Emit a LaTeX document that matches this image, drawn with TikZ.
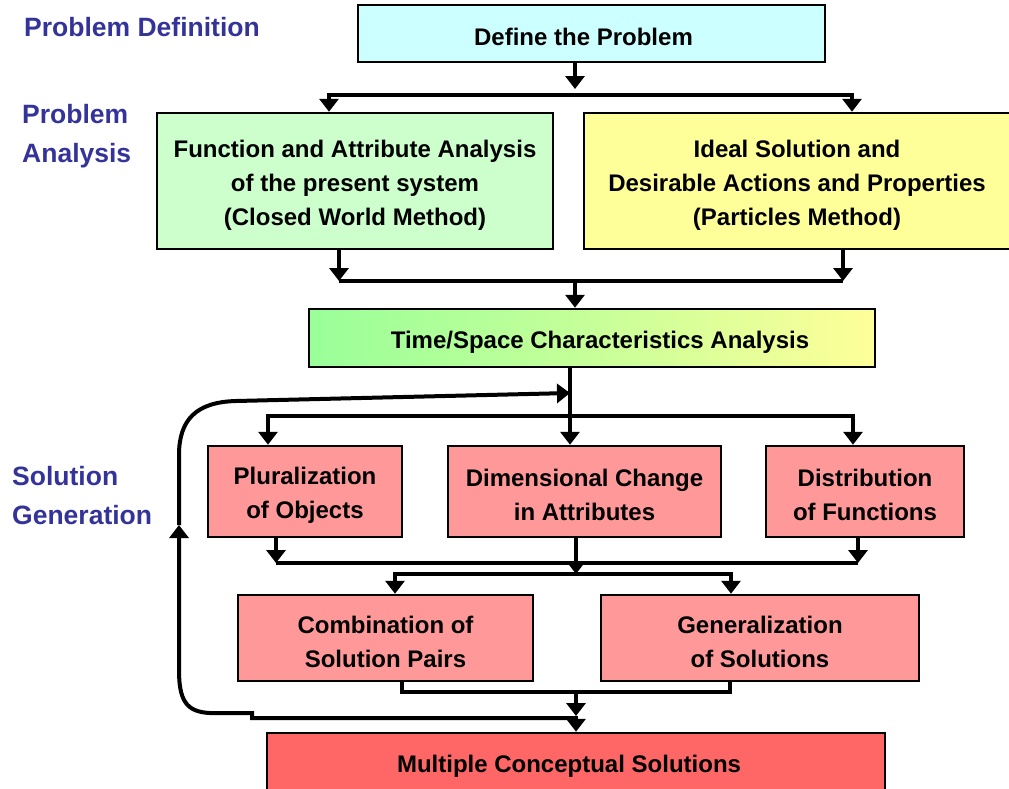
\documentclass[tikz,border=0pt]{standalone}
\usepackage{fontspec}
\setmainfont{Liberation Sans}
\usetikzlibrary{arrows.meta,calc}
\definecolor{labelblue}{HTML}{333399}
\definecolor{cyanbox}{HTML}{CCFFFF}
\definecolor{greenbox}{HTML}{CCFFCC}
\definecolor{yellowbox}{HTML}{FFFF99}
\definecolor{greenshade}{HTML}{99FF99}
\definecolor{pinkbox}{HTML}{FF9999}
\definecolor{redbox}{HTML}{FF6666}
% strut that sets the first line a little lower in its box
\newcommand\firststrut{\rule{0pt}{25pt}}
% moves a one-line label sideways by half of the given length
\newcommand\nudge[1]{\hspace*{#1}}
\tikzset{
  box/.style={draw=black, line width=2.5pt, align=center, inner sep=0pt,
    font=\bfseries\fontsize{24}{34}\selectfont},
  stage/.style={text=labelblue, align=left, anchor=north west, inner sep=0pt,
    font=\bfseries\fontsize{26.5}{39}\selectfont},
  conn/.style={draw=black, line width=4.5pt, line join=miter},
  tip/.style={-{Triangle[length=13pt,width=19pt]}},
  arr/.style={conn, tip},
  loop/.style={conn, tip, line width=4pt},
}
\begin{document}
\begin{tikzpicture}[x=1pt,y=-1pt]
\useasboundingbox (0,0) rectangle (1009,788);

% stage labels
\node[stage, anchor=north] (l1) at (142,17) {Problem Definition};
\node[stage] (l2) at (22,104) {Problem\\Analysis};
\node[stage] (l3) at (12,466) {Solution\\Generation};

% boxes
\node[box, fill=cyanbox, minimum width=467, minimum height=57] (def) at (591.5,33.5) {\firststrut\nudge{-16pt}Define the Problem};
\node[box, fill=greenbox, minimum width=396, minimum height=136] (fa) at (355,181)
  {\firststrut Function and Attribute Analysis\\of the present system\\(Closed World Method)};
\node[box, fill=yellowbox, minimum width=426, minimum height=136] (ia) at (797,181)
  {\firststrut Ideal Solution and\\Desirable Actions and Properties\\(Particles Method)};
\node[box, left color=greenshade, right color=yellowbox, middle color=yellowbox!45!greenshade,
  minimum width=566, minimum height=58] (ts) at (592,338) {\firststrut\nudge{16pt}Time/Space Characteristics Analysis};
\node[box, fill=pinkbox, minimum width=194, minimum height=91] (pl) at (305,491.5) {\firststrut Pluralization\\of Objects};
\node[box, fill=pinkbox, minimum width=273, minimum height=91] (dc) at (584.5,491.5) {\firststrut Dimensional Change\\in Attributes};
\node[box, fill=pinkbox, minimum width=198, minimum height=91] (df) at (865,491.5) {\firststrut Distribution\\of Functions};
\node[box, fill=pinkbox, minimum width=295, minimum height=86] (cp) at (385.5,638) {\firststrut Combination of\\Solution Pairs};
\node[box, fill=pinkbox, minimum width=318, minimum height=86] (gn) at (760,638) {\firststrut Generalization\\of Solutions};
\node[box, fill=redbox, minimum width=618, minimum height=58] (mc) at (576,762) {\firststrut\nudge{-14pt}Multiple Conceptual Solutions};

% junction points
\coordinate (b1) at (575,95);
\coordinate (b1l) at (329,95);
\coordinate (b1r) at (852,95);
\coordinate (c2) at (575,281);
\coordinate (c2l) at (339,281);
\coordinate (c2r) at (843,281);
\coordinate (c3) at (570,416);
\coordinate (c3l) at (268,416);
\coordinate (c3r) at (853,416);
\coordinate (c4l) at (276,563);
\coordinate (c4r) at (858,563);
\coordinate (c5) at (576,574);
\coordinate (c5l) at (395,574);
\coordinate (c5r) at (731,574);
\coordinate (c6) at (576,692);
\coordinate (c6l) at (402,692);
\coordinate (c6r) at (730,692);
\coordinate (c7) at (576,716);
\coordinate (fb) at (576,718);
\coordinate (fbj) at (252,718);
\coordinate (fbk) at (252,713);
\coordinate (fbc) at (210,713);
\coordinate (up) at (179,525);
\coordinate (lp) at (570,393);

% define -> analysis
\draw[arr] (def.south -| b1) -- (b1 |- 0,89);
\draw[conn] (b1l) -- (b1r);
\draw[arr] (b1) -| (fa.north -| b1l);
\draw[arr] (b1) -| (ia.north -| b1r);

% analysis -> time/space
\draw[arr] (fa.south -| c2l) -- (c2l);
\draw[arr] (ia.south -| c2r) -- (c2r);
\draw[conn] (c2l) -- (c2r);
\draw[arr] (c2) -- (ts.north -| c2);

% time/space -> generation methods
\draw[arr] (ts.south -| c3) -- (dc.north -| c3);
\draw[arr] (c3) -| (pl.north -| c3l);
\draw[arr] (c3) -| (df.north -| c3r);

% methods -> combination / generalization
\draw[arr] (pl.south -| c4l) -- (c4l);
\draw[arr] (df.south -| c4r) -- (c4r);
\draw[conn] (c4l) -- (c4r);
\draw[arr] (dc.south -| c5) -- (c5);
\draw[conn] (c5l) -- (c5r);
\draw[arr] (c5) -| (cp.north -| c5l);
\draw[arr] (c5) -| (gn.north -| c5r);

% -> multiple conceptual solutions
\draw[conn] (cp.south -| c6l) -- (c6l) -- (c6r) -- (gn.south -| c6r);
\draw[arr] (c6) -- (c7);
\draw[arr] (c7) -- (mc.north -| c7);

% feedback loop
\draw[loop]
  (fb) -- (fbj) -- (fbk) -- (fbc) .. controls (186,712) and (179,700) .. (179,670) -- (up);
\draw[loop]
  (up) -- (179,455) .. controls (179,420) and (196,402) .. (236,401) -- (lp);
\end{tikzpicture}
\end{document}
